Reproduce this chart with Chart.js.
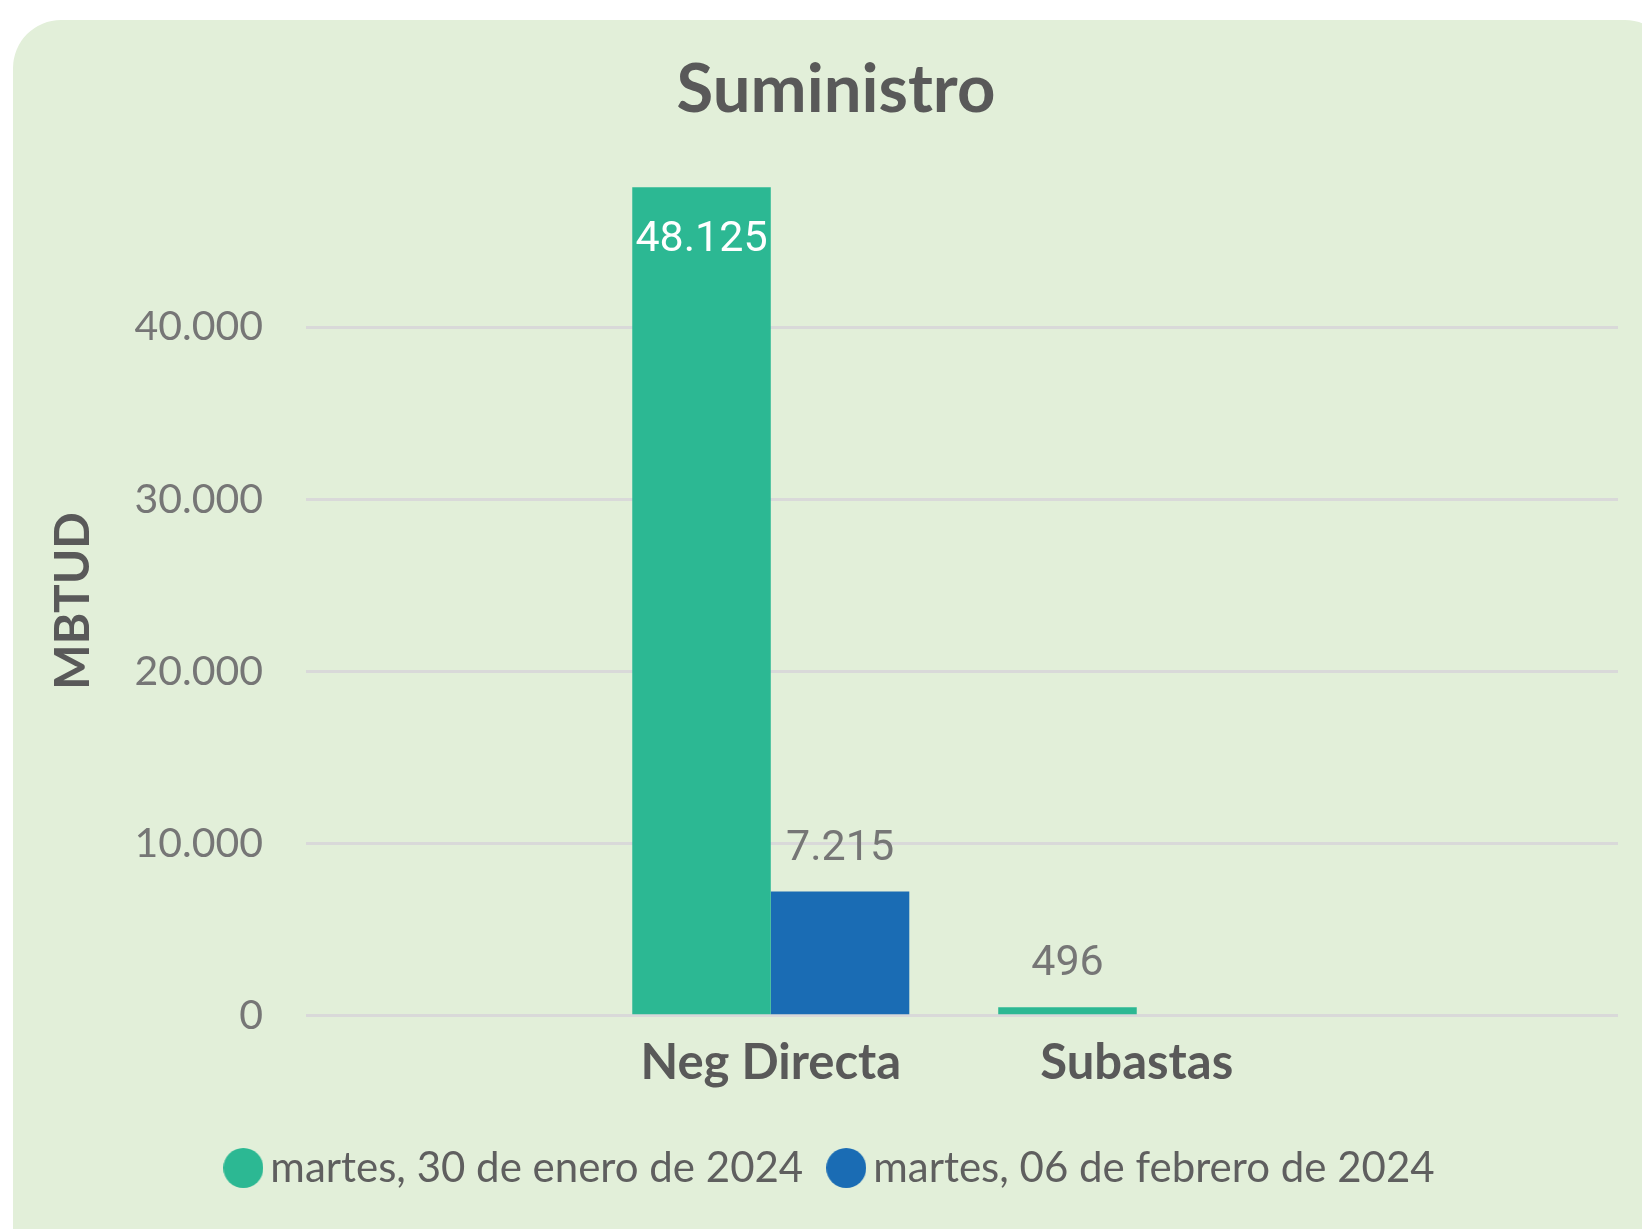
<!DOCTYPE html>
<html>
<head>
<meta charset="utf-8">
<script src="https://cdn.jsdelivr.net/npm/chart.js@4.4.1/dist/chart.umd.min.js"></script>
<style>
  html, body { margin: 0; padding: 0; background: #ffffff; overflow: hidden; }
  #panel {
    position: absolute; left: 13px; top: 20px; width: 1660px; height: 1260px;
    background: #e2efd9; border-radius: 48px; overflow: hidden;
  }
  #myChart { position: absolute; left: 0; top: 0; }
</style>
</head>
<body>
<div id="panel"><canvas id="myChart" width="1646" height="1209"></canvas></div>
<script>
// datos
var categorias = ["Neg Directa", "Subastas"];
var series = ["martes, 30 de enero de 2024", "martes, 06 de febrero de 2024"];
var enero30 = [48125, 496];
var febrero06 = [7215, null];
var ticksY = [0, 10000, 20000, 30000, 40000];
var colores = ["#2cb893", "#1a6cb4"];

function fmt(v) {
    return String(Math.round(v)).replace(/\B(?=(\d{3})+(?!\d))/g, ".");
}

function puntos(vals) {
    return vals.map(function (v, i) { return { x: i + 1, y: v }; });
}

// circulos de la leyenda
var dots = colores.map(function (c) {
    var cv = document.createElement("canvas");
    cv.width = 40; cv.height = 40;
    var g = cv.getContext("2d");
    g.fillStyle = c;
    g.beginPath();
    g.arc(20, 20, 20, 0, Math.PI * 2);
    g.fill();
    return cv;
});

var etiquetas = {
    id: "etiquetas",
    afterDatasetsDraw: function (chart) {
        var ctx = chart.ctx;
        var top = chart.chartArea.top;
        ctx.save();
        ctx.font = "43px Roboto";
        ctx.textAlign = "center";
        ctx.textBaseline = "alphabetic";
        chart.data.datasets.forEach(function (ds, i) {
            chart.getDatasetMeta(i).data.forEach(function (bar, j) {
                var v = ds.data[j].y;
                if (v === null || v === undefined) return;
                var y = bar.y - 32;
                if (y - 31 < top) {
                    ctx.fillStyle = "#ffffff";
                    y = bar.y + 64;
                } else {
                    ctx.fillStyle = "#767676";
                }
                ctx.fillText(fmt(v), bar.x, y);
            });
        });
        ctx.restore();
    }
};

var ctx = document.getElementById("myChart").getContext("2d");

var chart = new Chart(ctx, {
    type: "bar",
    data: {
        datasets: [{
            label: series[0],
            backgroundColor: colores[0],
            data: puntos(enero30)
        }, {
            label: series[1],
            backgroundColor: colores[1],
            data: puntos(febrero06)
        }]
    },
    plugins: [etiquetas],
    options: {
        responsive: false,
        animation: false,
        devicePixelRatio: 1,
        categoryPercentage: 0.757,
        barPercentage: 1,
        layout: { padding: { top: 0, left: 0, right: 0, bottom: 30 } },
        plugins: {
            tooltip: { enabled: false },
            title: {
                display: true,
                text: "Suministro",
                color: "#595959",
                font: { family: "Lato", size: 67, weight: "bold" },
                padding: { top: 29.8, bottom: 55.8 }
            },
            legend: {
                position: "bottom",
                labels: {
                    usePointStyle: true,
                    boxWidth: 12,
                    padding: 37,
                    color: "#5f5f5f",
                    font: { family: "Lato", size: 42 },
                    generateLabels: function (chart) {
                        var items = Chart.defaults.plugins.legend.labels.generateLabels(chart);
                        items.forEach(function (it, i) { it.pointStyle = dots[i]; });
                        return items;
                    }
                }
            }
        },
        scales: {
            x: {
                type: "linear",
                min: -0.27,
                max: 3.315,
                offset: false,
                grid: { display: false, drawTicks: false },
                border: { display: false },
                afterBuildTicks: function (s) {
                    s.ticks = categorias.map(function (c, i) { return { value: i + 1 }; });
                },
                ticks: {
                    padding: 17.7,
                    maxRotation: 0,
                    autoSkip: false,
                    color: "#595959",
                    font: { family: "Lato", size: 49, weight: "bold" },
                    callback: function (v) { return categorias[v - 1] || ""; }
                }
            },
            y: {
                min: 0,
                max: 48200,
                afterFit: function (s) { s.width = 293; },
                afterBuildTicks: function (s) {
                    s.ticks = ticksY.map(function (v) { return { value: v }; });
                },
                grid: { color: "#d9d9d9", lineWidth: 3, drawTicks: false },
                border: { display: false },
                title: {
                    display: true,
                    text: "MBTUD",
                    color: "#595959",
                    font: { family: "Lato", size: 48, weight: "bold" },
                    padding: { top: 32, bottom: 0 }
                },
                ticks: {
                    padding: 43,
                    color: "#767676",
                    font: { family: "Lato", size: 41 },
                    callback: function (v) { return fmt(v); }
                }
            },
            margen: {
                position: "right",
                display: true,
                afterFit: function (s) { s.width = 41; },
                grid: { display: false, drawTicks: false },
                border: { display: false },
                ticks: { display: false }
            }
        }
    }
});
</script>
</body>
</html>
